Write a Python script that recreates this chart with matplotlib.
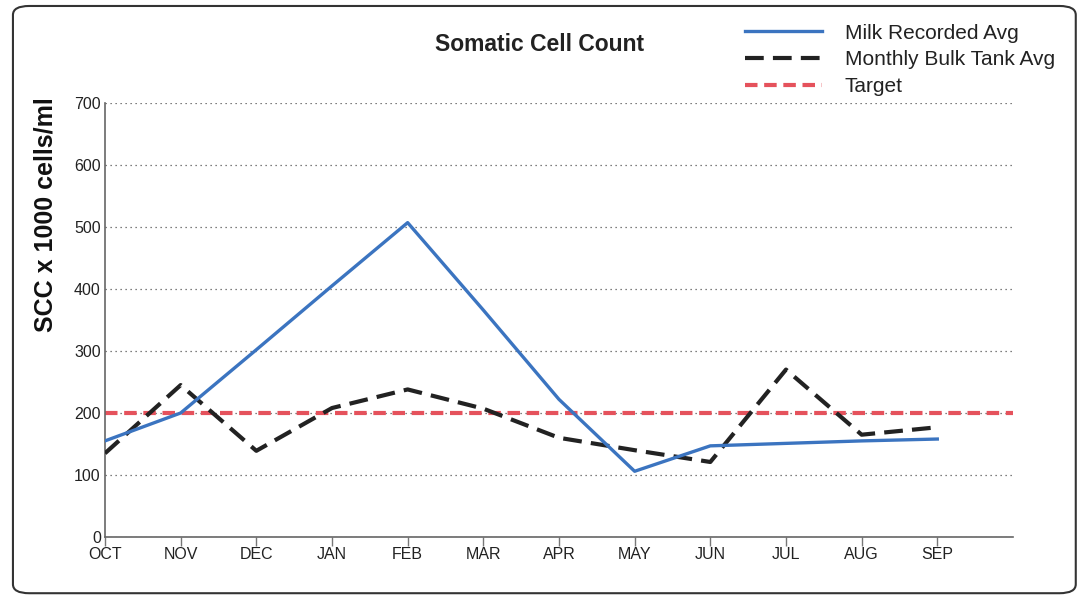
import matplotlib.pyplot as plt
from matplotlib.patches import FancyBboxPatch

plt.rcParams['font.family'] = ['Liberation Sans', 'DejaVu Sans']

months = ['OCT', 'NOV', 'DEC', 'JAN', 'FEB', 'MAR', 'APR', 'MAY', 'JUN', 'JUL', 'AUG', 'SEP']
milk_recorded = [155, 200, 302, 405, 507, 366, 222, 106, 147, 151, 155, 158]
bulk_tank = [135, 245, 139, 208, 238, 207, 160, 140, 121, 270, 165, 177]
target = 200

fig = plt.figure(figsize=(10.79, 5.98), dpi=100)
ax = fig.add_axes([0.0973, 0.102, 0.8415, 0.7258])

x = list(range(len(months)))
ax.plot(x, milk_recorded, color='#3b74c0', lw=2.4, label='Milk Recorded Avg', zorder=4)
ax.plot(x, bulk_tank, color='#222222', lw=3.0, dashes=(4.5, 2.2), label='Monthly Bulk Tank Avg', zorder=3)
ax.axhline(target, color='#e5525c', lw=3.0, dashes=(3.0, 1.6), label='Target', zorder=2)

ax.set_xlim(0, 12)
ax.set_ylim(0, 700)
ax.set_xticks(x)
ax.set_xticklabels(months)
ax.set_yticks(range(0, 701, 100))
ax.tick_params(axis='x', length=6.5, width=1, color='#777777', pad=1, labelsize=11.5, labelcolor='#222222')
ax.tick_params(axis='y', length=0, pad=3, labelsize=11.5, labelcolor='#222222')
ax.grid(axis='y', linestyle=(0, (1, 3)), color='#555555', lw=0.9)
for s in ['top', 'right']:
    ax.spines[s].set_visible(False)
for s in ['left', 'bottom']:
    ax.spines[s].set_color('#666666')
    ax.spines[s].set_linewidth(1.2)

ax.set_ylabel('SCC x 1000 cells/ml', fontsize=18, fontweight='bold', color='#111111')
ax.yaxis.set_label_coords(-0.052, 0.742)

fig.text(0.5, 0.926, 'Somatic Cell Count', ha='center', va='center', fontsize=16.5, fontweight='bold', color='#222222')

leg = fig.legend(loc='upper right', bbox_to_anchor=(0.995, 0.992), frameon=False,
                 fontsize=15, handlelength=3.7, handletextpad=1.1, labelspacing=0.38)
for t in leg.get_texts():
    t.set_color('#222222')

border = FancyBboxPatch((0.012, 0.008), 0.985, 0.982, boxstyle='round,pad=0,rounding_size=0.015',
                        transform=fig.transFigure, fill=False, ec='#333333', lw=1.5)
fig.patches.append(border)

fig.savefig('out.png', dpi=100)
